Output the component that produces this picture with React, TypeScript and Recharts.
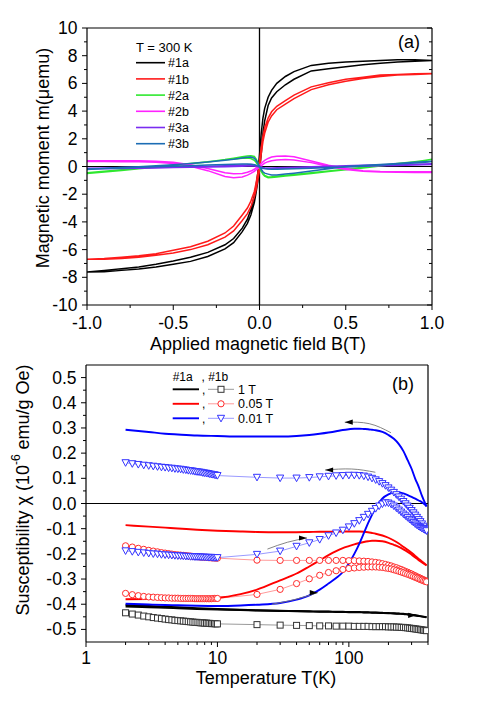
import React from "react";
import { LineChart, Line, XAxis, YAxis, ReferenceLine } from "recharts";

const FONT = "'Liberation Sans', Arial, Helvetica, sans-serif";

// ---------- panel (a): hysteresis loops at 300 K ----------
const fieldB = [-1, -0.9, -0.8, -0.7, -0.6, -0.5, -0.4, -0.3, -0.2, -0.15, -0.1, -0.07, -0.05, -0.03, -0.02, -0.01, 0, 0.01, 0.02, 0.03, 0.05, 0.07, 0.1, 0.15, 0.2, 0.3, 0.4, 0.5, 0.6, 0.7, 0.8, 0.9, 1];

const m1aDown = [-7.62, -7.5, -7.38, -7.25, -7.05, -6.82, -6.55, -6.2, -5.65, -5.2, -4.45, -3.8, -3.1, -2.1, -1.4, -0.5, 0.8, 2.4, 3.5, 4.2, 5.0, 5.5, 6.0, 6.5, 6.85, 7.3, 7.45, 7.55, 7.6, 7.65, 7.7, 7.7, 7.65];
const m1aUp = [-7.62, -7.6, -7.5, -7.4, -7.25, -7.05, -6.85, -6.5, -5.95, -5.5, -4.7, -4.1, -3.5, -2.6, -1.9, -1.1, -0.3, 0.9, 2.4, 3.3, 4.4, 4.95, 5.4, 5.9, 6.3, 6.9, 7.05, 7.2, 7.35, 7.45, 7.55, 7.6, 7.65];
const m1bDown = [-6.7, -6.65, -6.55, -6.45, -6.3, -6.05, -5.8, -5.4, -4.8, -4.3, -3.5, -3.0, -2.5, -1.8, -1.2, -0.5, 0.4, 1.4, 2.2, 2.8, 3.5, 3.95, 4.35, 4.75, 5.15, 5.75, 6.05, 6.3, 6.45, 6.6, 6.65, 6.7, 6.72];
const m1bUp = [-6.7, -6.7, -6.65, -6.55, -6.4, -6.25, -6.0, -5.65, -5.1, -4.65, -3.9, -3.4, -2.9, -2.2, -1.7, -1.0, -0.3, 0.9, 1.8, 2.4, 3.2, 3.65, 4.1, 4.5, 4.9, 5.55, 5.9, 6.15, 6.35, 6.5, 6.6, 6.65, 6.7];
const m2aDown = [-0.5, -0.39, -0.28, -0.17, -0.06, 0.05, 0.19, 0.33, 0.5, 0.6, 0.7, 0.76, 0.78, 0.72, 0.55, 0.3, 0.0, -0.3, -0.5, -0.65, -0.76, -0.74, -0.7, -0.64, -0.58, -0.45, -0.32, -0.19, -0.06, 0.08, 0.21, 0.35, 0.5];
const m2aUp = [-0.45, -0.35, -0.24, -0.13, -0.02, 0.09, 0.22, 0.35, 0.48, 0.55, 0.6, 0.62, 0.58, 0.45, 0.3, 0.1, -0.1, -0.35, -0.56, -0.7, -0.82, -0.8, -0.76, -0.69, -0.63, -0.5, -0.37, -0.24, -0.1, 0.04, 0.18, 0.33, 0.53];
const m2bDown = [0.42, 0.42, 0.42, 0.41, 0.38, 0.3, 0.12, -0.15, -0.45, -0.52, -0.5, -0.42, -0.33, -0.2, -0.1, 0.0, 0.1, 0.22, 0.34, 0.44, 0.58, 0.68, 0.74, 0.76, 0.7, 0.4, 0.1, -0.15, -0.3, -0.36, -0.38, -0.38, -0.38];
const m2bUp = [0.36, 0.36, 0.35, 0.34, 0.3, 0.22, 0.02, -0.3, -0.72, -0.82, -0.76, -0.62, -0.5, -0.35, -0.25, -0.15, -0.05, 0.05, 0.15, 0.24, 0.35, 0.42, 0.47, 0.5, 0.47, 0.28, 0.0, -0.22, -0.35, -0.4, -0.42, -0.43, -0.43];
const m3aDown = [-0.12, -0.1, -0.08, -0.06, -0.04, -0.02, 0.0, 0.02, 0.05, 0.07, 0.1, 0.12, 0.14, 0.12, 0.08, 0.03, 0.0, -0.04, -0.07, -0.09, -0.1, -0.1, -0.09, -0.07, -0.05, -0.02, 0.02, 0.06, 0.09, 0.12, 0.15, 0.17, 0.2];
const m3aUp = [-0.18, -0.16, -0.14, -0.12, -0.1, -0.08, -0.06, -0.04, -0.02, 0.0, 0.02, 0.04, 0.05, 0.04, 0.02, -0.01, -0.04, -0.08, -0.12, -0.14, -0.16, -0.16, -0.15, -0.13, -0.11, -0.08, -0.05, -0.02, 0.02, 0.05, 0.08, 0.11, 0.14];
const m3bDown = [-0.22, -0.15, -0.08, -0.01, 0.06, 0.13, 0.22, 0.32, 0.45, 0.52, 0.62, 0.66, 0.68, 0.6, 0.45, 0.25, 0.02, -0.2, -0.38, -0.48, -0.55, -0.62, -0.62, -0.55, -0.48, -0.32, -0.16, 0.0, 0.08, 0.15, 0.22, 0.3, 0.38];
const m3bUp = [-0.18, -0.14, -0.1, -0.06, -0.02, 0.02, 0.06, 0.1, 0.14, 0.16, 0.18, 0.18, 0.16, 0.12, 0.08, 0.03, -0.02, -0.08, -0.12, -0.15, -0.18, -0.2, -0.2, -0.18, -0.16, -0.12, -0.08, -0.03, 0.03, 0.1, 0.18, 0.26, 0.35];

const loopSeries = [
  { name: "#1a", color: "#000000", down: m1aDown, up: m1aUp },
  { name: "#1b", color: "#ff1a1a", down: m1bDown, up: m1bUp },
  { name: "#2a", color: "#2ee82e", down: m2aDown, up: m2aUp },
  { name: "#2b", color: "#ff22ff", down: m2bDown, up: m2bUp },
  { name: "#3a", color: "#7a2cf0", down: m3aDown, up: m3aUp },
  { name: "#3b", color: "#1c6db4", down: m3bDown, up: m3bUp },
];

const bTicks = [-1, -0.75, -0.5, -0.25, 0, 0.25, 0.5, 0.75, 1];
const mTicks = [-10, -9, -8, -7, -6, -5, -4, -3, -2, -1, 0, 1, 2, 3, 4, 5, 6, 7, 8, 9, 10];

// ---------- panel (b): susceptibility vs temperature ----------
const lineT = [2, 3, 4, 5, 7, 10, 15, 20, 30, 40, 50, 60, 70, 80, 90, 100, 110, 120, 130, 140, 150, 160, 180, 200, 220, 240, 260, 280, 300, 320, 340, 360, 390];
const chi1aBlackA = [-0.403, -0.407, -0.41, -0.412, -0.416, -0.419, -0.422, -0.424, -0.426, -0.427, -0.428, -0.429, -0.429, -0.43, -0.43, -0.431, -0.431, -0.431, -0.432, -0.432, -0.433, -0.433, -0.434, -0.435, -0.436, -0.437, -0.438, -0.44, -0.442, -0.444, -0.446, -0.448, -0.451];
const chi1aBlackB = [-0.409, -0.412, -0.414, -0.416, -0.419, -0.421, -0.423, -0.425, -0.427, -0.428, -0.429, -0.43, -0.43, -0.431, -0.431, -0.432, -0.432, -0.432, -0.433, -0.433, -0.434, -0.434, -0.435, -0.436, -0.437, -0.438, -0.439, -0.441, -0.443, -0.445, -0.447, -0.449, -0.452];
const chi1aRedUpper = [-0.086, -0.092, -0.096, -0.099, -0.104, -0.108, -0.111, -0.113, -0.114, -0.114, -0.113, -0.112, -0.112, -0.111, -0.111, -0.111, -0.111, -0.111, -0.112, -0.114, -0.117, -0.12, -0.127, -0.136, -0.147, -0.159, -0.172, -0.184, -0.196, -0.208, -0.22, -0.23, -0.245];
const chi1aRedLower = [-0.38, -0.379, -0.378, -0.377, -0.376, -0.374, -0.36, -0.342, -0.305, -0.278, -0.25, -0.226, -0.205, -0.189, -0.177, -0.169, -0.162, -0.157, -0.153, -0.15, -0.148, -0.148, -0.15, -0.156, -0.164, -0.172, -0.182, -0.192, -0.203, -0.214, -0.225, -0.234, -0.246];
const chi1aBlueUpper = [0.293, 0.284, 0.277, 0.274, 0.27, 0.268, 0.266, 0.266, 0.266, 0.268, 0.272, 0.277, 0.282, 0.287, 0.292, 0.295, 0.297, 0.297, 0.296, 0.295, 0.293, 0.291, 0.284, 0.272, 0.257, 0.236, 0.208, 0.172, 0.138, 0.098, 0.066, 0.03, -0.012];
const chi1aBlueLower = [-0.398, -0.401, -0.403, -0.404, -0.406, -0.407, -0.405, -0.402, -0.395, -0.382, -0.365, -0.342, -0.318, -0.296, -0.272, -0.238, -0.2, -0.16, -0.118, -0.078, -0.045, -0.018, 0.02, 0.036, 0.043, 0.044, 0.04, 0.033, 0.026, 0.019, 0.012, 0.005, -0.01];

const markerT = [2, 2.25, 2.5, 2.75, 3, 3.25, 3.5, 3.75, 4, 4.25, 4.5, 4.75, 5, 5.25, 5.5, 5.75, 6, 6.25, 6.5, 6.75, 7, 7.25, 7.5, 7.75, 8, 8.25, 8.5, 8.75, 9, 9.25, 9.5, 9.75, 10, 20, 30, 40, 50, 60, 70, 80, 90, 100, 110, 120, 130, 140, 150, 160, 170, 180, 190, 200, 210, 220, 230, 240, 250, 260, 270, 280, 290, 300, 310, 320, 330, 340, 350, 360, 370, 380, 390];
const chi1bSquare = [-0.434, -0.439, -0.443, -0.447, -0.45, -0.453, -0.455, -0.457, -0.459, -0.461, -0.462, -0.464, -0.465, -0.466, -0.467, -0.468, -0.469, -0.47, -0.471, -0.472, -0.472, -0.473, -0.474, -0.474, -0.475, -0.475, -0.476, -0.476, -0.477, -0.477, -0.477, -0.478, -0.478,
  -0.481, -0.483, -0.484, -0.485, -0.486, -0.486, -0.487, -0.487, -0.487, -0.488, -0.488, -0.488, -0.488, -0.489, -0.489, -0.489, -0.489, -0.489, -0.49, -0.49, -0.49, -0.491, -0.491, -0.492, -0.492, -0.493, -0.494, -0.495, -0.496, -0.497, -0.498, -0.499, -0.5, -0.501, -0.502, -0.503, -0.504, -0.505];
const chi1bCircleUpper = [-0.168, -0.173, -0.178, -0.182, -0.186, -0.189, -0.192, -0.195, -0.197, -0.199, -0.201, -0.203, -0.204, -0.205, -0.206, -0.207, -0.208, -0.209, -0.21, -0.211, -0.211, -0.212, -0.213, -0.213, -0.214, -0.214, -0.215, -0.215, -0.216, -0.216, -0.216, -0.217, -0.217,
  -0.225, -0.226, -0.226, -0.226, -0.226, -0.226, -0.226, -0.226, -0.227, -0.227, -0.228, -0.229, -0.23, -0.232, -0.234, -0.236, -0.239, -0.242, -0.245, -0.248, -0.252, -0.255, -0.259, -0.262, -0.266, -0.27, -0.273, -0.277, -0.28, -0.284, -0.287, -0.291, -0.294, -0.297, -0.3, -0.303, -0.306, -0.309];
const chi1bCircleLower = [-0.357, -0.362, -0.366, -0.369, -0.371, -0.372, -0.373, -0.374, -0.375, -0.375, -0.376, -0.376, -0.376, -0.377, -0.377, -0.377, -0.377, -0.377, -0.377, -0.378, -0.378, -0.378, -0.378, -0.378, -0.378, -0.378, -0.378, -0.378, -0.378, -0.377, -0.377, -0.377, -0.377,
  -0.361, -0.341, -0.318, -0.299, -0.285, -0.274, -0.267, -0.262, -0.258, -0.256, -0.254, -0.253, -0.252, -0.252, -0.252, -0.253, -0.254, -0.256, -0.258, -0.26, -0.263, -0.266, -0.269, -0.272, -0.275, -0.278, -0.281, -0.284, -0.287, -0.29, -0.293, -0.296, -0.299, -0.302, -0.304, -0.307, -0.309, -0.311];
const chi1bTriUpper = [0.162, 0.158, 0.155, 0.152, 0.15, 0.148, 0.146, 0.144, 0.143, 0.141, 0.14, 0.138, 0.137, 0.136, 0.134, 0.133, 0.131, 0.13, 0.129, 0.127, 0.126, 0.125, 0.124, 0.122, 0.121, 0.12, 0.119, 0.117, 0.116, 0.115, 0.114, 0.112, 0.111,
  0.104, 0.101, 0.101, 0.103, 0.106, 0.108, 0.11, 0.111, 0.112, 0.112, 0.111, 0.109, 0.105, 0.1, 0.094, 0.087, 0.079, 0.071, 0.062, 0.053, 0.044, 0.035, 0.026, 0.017, 0.008, -0.001, -0.01, -0.019, -0.028, -0.037, -0.046, -0.055, -0.064, -0.072, -0.081, -0.09, -0.099, -0.108];
const chi1bTriLower = [-0.188, -0.191, -0.194, -0.196, -0.198, -0.2, -0.201, -0.203, -0.204, -0.205, -0.206, -0.207, -0.208, -0.208, -0.209, -0.21, -0.21, -0.211, -0.211, -0.212, -0.212, -0.212, -0.213, -0.213, -0.213, -0.214, -0.214, -0.214, -0.214, -0.215, -0.215, -0.215, -0.215,
  -0.202, -0.189, -0.17, -0.156, -0.143, -0.128, -0.117, -0.106, -0.093, -0.08, -0.068, -0.055, -0.043, -0.031, -0.02, -0.01, -0.002, 0.003, 0.002, -0.003, -0.01, -0.018, -0.026, -0.034, -0.042, -0.049, -0.056, -0.063, -0.069, -0.075, -0.081, -0.086, -0.091, -0.095, -0.099, -0.102, -0.105, -0.108];

// sweep-direction arrows (T, chi)
const arrowT = [
  { pts: [[209, 0.281], [143, 0.317], [93, 0.323]], dir: -1, color: "#777" },
  { pts: [[159, 0.124], [105, 0.137], [66, 0.133]], dir: -1, color: "#777" },
  { pts: [[24, -0.181], [34, -0.154], [48, -0.137]], dir: 1, color: "#777" },
  { pts: [[26, -0.4], [39, -0.381], [58, -0.354]], dir: 1, color: "#777" },
  { pts: [[300, -0.442], [325, -0.444]], dir: 1, color: "#000" },
];

const tTicks = [1, 2, 3, 4, 5, 6, 7, 8, 9, 10, 20, 30, 40, 50, 60, 70, 80, 90, 100, 200, 300, 400];
const chiTicks = [-0.5, -0.45, -0.4, -0.35, -0.3, -0.25, -0.2, -0.15, -0.1, -0.05, 0, 0.05, 0.1, 0.15, 0.2, 0.25, 0.3, 0.35, 0.4, 0.45, 0.5];

const toLoop = (down: number[], up: number[]) => [
  ...fieldB.map((b, i) => ({ b, m: down[i] })).reverse(),
  ...fieldB.map((b, i) => ({ b, m: up[i] })),
];
const toSeries = (ts: number[], vals: number[]) => ts.map((t, i) => ({ t, c: vals[i] }));

const isMult = (v: number, step: number) => Math.abs(v / step - Math.round(v / step)) < 1e-6;
const AX = { stroke: "#000", strokeWidth: 1.2 };
const TICK_FONT = 17.5;

type Side = "bottom" | "left" | "top" | "right";
function makeTick(side: Side, isMajor: (v: number) => boolean, fmt?: (v: number) => string, gap = 0) {
  return (props: any) => {
    const { x, y, payload, index } = props;
    const v: number = payload.value;
    const major = isMajor(v);
    const len = major ? 5 : 3;
    let tick;
    if (side === "bottom" || side === "top") tick = <line x1={x} x2={x} y1={y} y2={y + len} stroke="#000" />;
    else tick = <line x1={x} x2={x - len} y1={y} y2={y} stroke="#000" />;
    let label = null;
    if (major && fmt) {
      label =
        side === "bottom" ? (
          <text x={x} y={y + gap} textAnchor="middle" fontSize={TICK_FONT} fontFamily={FONT} fill="#000">{fmt(v)}</text>
        ) : (
          <text x={x - gap} y={y + 6} textAnchor="end" fontSize={TICK_FONT} fontFamily={FONT} fill="#000">{fmt(v)}</text>
        );
    }
    return (
      <g key={`${side}-${index}`}>
        {tick}
        {label}
      </g>
    );
  };
}

const squareDot = (p: any) => (
  <rect key={`s${p.index}`} x={p.cx - 3} y={p.cy - 3} width={6} height={6} fill="#fff" stroke="#333" strokeWidth={1} />
);
const circleDot = (p: any) => (
  <circle key={`c${p.index}`} cx={p.cx} cy={p.cy} r={3.1} fill="#fff" stroke="#ff2a2a" strokeWidth={1} />
);
const triDot = (p: any) => (
  <polygon key={`v${p.index}`} points={`${p.cx - 3.6},${p.cy - 3} ${p.cx + 3.6},${p.cy - 3} ${p.cx},${p.cy + 3.6}`} fill="#fff" stroke="#3434ff" strokeWidth={1} />
);

const markerSeries = [
  { key: "sq", vals: chi1bSquare, line: "#9a9a9a", dot: squareDot },
  { key: "cu", vals: chi1bCircleUpper, line: "#ff9a9a", dot: circleDot },
  { key: "cl", vals: chi1bCircleLower, line: "#ff9a9a", dot: circleDot },
  { key: "tu", vals: chi1bTriUpper, line: "#9a9aff", dot: triDot },
  { key: "tl", vals: chi1bTriLower, line: "#9a9aff", dot: triDot },
];

const solidSeries = [
  { key: "k1", vals: chi1aBlackA, color: "#000000" },
  { key: "k2", vals: chi1aBlackB, color: "#000000" },
  { key: "r1", vals: chi1aRedUpper, color: "#ff0000" },
  { key: "r2", vals: chi1aRedLower, color: "#ff0000" },
  { key: "b1", vals: chi1aBlueUpper, color: "#0000ff" },
  { key: "b2", vals: chi1aBlueLower, color: "#0000ff" },
];

const legendB = [
  { label: "1 T", color: "#000000", line: "#9a9a9a", dot: squareDot },
  { label: "0.05 T", color: "#ff0000", line: "#ff9a9a", dot: circleDot },
  { label: "0.01 T", color: "#0000ff", line: "#9a9aff", dot: triDot },
];

const arrowDot = (n: number, dir: number) => (p: any) => {
  if (p.index !== n - 1) return <g key={`a${p.index}`} />;
  const { cx, cy } = p;
  const pts = `${cx},${cy} ${cx - dir * 8},${cy - 2.6} ${cx - dir * 8},${cy + 2.6}`;
  return <polygon key={`a${p.index}`} points={pts} fill="#000" />;
};

export default function App() {
  return (
    <div style={{ position: "absolute", left: 0, top: 0, width: 491, height: 701, background: "#fff", fontFamily: FONT }}>
      <div style={{ position: "absolute", left: 0, top: 0 }}>
        <LineChart width={491} height={350} margin={{ top: 27, right: 58, bottom: 44, left: 86 }}>
          <XAxis dataKey="b" type="number" domain={[-1, 1]} allowDataOverflow ticks={bTicks} interval={0} height={1} tickSize={0} tickMargin={0} tickLine={false} axisLine={AX}
            tick={makeTick("bottom", (v) => isMult(v, 0.5), (v) => v.toFixed(1), 24)} />
          <XAxis xAxisId="top" orientation="top" type="number" domain={[-1, 1]} allowDataOverflow ticks={bTicks} interval={0} height={1} tickSize={0} tickMargin={0} tickLine={false} axisLine={AX}
            tick={makeTick("top", () => true)} />
          <YAxis type="number" domain={[-10, 10]} allowDataOverflow ticks={mTicks} interval={0} width={1} tickSize={0} tickMargin={0} tickLine={false} axisLine={AX}
            tick={makeTick("left", (v) => isMult(v, 2), (v) => String(v), 9.5)} />
          <YAxis yAxisId="right" orientation="right" type="number" domain={[-10, 10]} allowDataOverflow ticks={mTicks} interval={0} width={1} tickSize={0} tickMargin={0} tickLine={false} axisLine={AX}
            tick={makeTick("right", (v) => isMult(v, 2))} />
          <ReferenceLine x={0} stroke="#000" strokeWidth={1.3} />
          <ReferenceLine y={0} stroke="#000" strokeWidth={1.1} />
          {loopSeries.map((s) => (
            <Line key={s.name} data={toLoop(s.down, s.up)} dataKey="m" type="linear" stroke={s.color} strokeWidth={1.5}
              dot={false} activeDot={false} isAnimationActive={false} />
          ))}
        </LineChart>
      </div>

      <div style={{ position: "absolute", left: 0, top: 350 }}>
        <LineChart width={491} height={351} margin={{ top: 14, right: 62, bottom: 58, left: 85 }}>
          <XAxis dataKey="t" type="number" scale="log" domain={[1, 400]} allowDataOverflow ticks={tTicks} interval={0} height={1} tickSize={0} tickMargin={0} tickLine={false} axisLine={AX}
            tick={makeTick("bottom", (v) => v === 1 || v === 10 || v === 100, (v) => String(v), 22)} />
          <XAxis xAxisId="top" orientation="top" type="number" scale="log" domain={[1, 400]} allowDataOverflow height={1} tick={false} tickLine={false} axisLine={AX} />
          <YAxis type="number" domain={[-0.55, 0.55]} allowDataOverflow ticks={chiTicks} interval={0} width={1} tickSize={0} tickMargin={0} tickLine={false} axisLine={AX}
            tick={makeTick("left", (v) => isMult(v, 0.1), (v) => v.toFixed(1), 9.5)} />
          <YAxis yAxisId="right" orientation="right" type="number" domain={[-0.55, 0.55]} allowDataOverflow width={1} tick={false} tickLine={false} axisLine={AX} />
          <ReferenceLine y={0} stroke="#000" strokeWidth={1.1} />
          {markerSeries.map((s) => (
            <Line key={s.key} data={toSeries(markerT, s.vals)} dataKey="c" type="linear" stroke={s.line} strokeWidth={1}
              dot={s.dot} activeDot={false} isAnimationActive={false} />
          ))}
          {solidSeries.map((s) => (
            <Line key={s.key} data={toSeries(lineT, s.vals)} dataKey="c" type="monotone" stroke={s.color} strokeWidth={1.9}
              dot={false} activeDot={false} isAnimationActive={false} />
          ))}
          {arrowT.map((a, i) => (
            <Line key={`arrow${i}`} data={a.pts.map(([t, c]) => ({ t, c }))} dataKey="c" type="natural" stroke={a.color} strokeWidth={0.9}
              dot={arrowDot(a.pts.length, a.dir)} activeDot={false} isAnimationActive={false} />
          ))}
        </LineChart>
      </div>

      <svg width={491} height={701} style={{ position: "absolute", left: 0, top: 0, pointerEvents: "none" }} fontFamily={FONT}>
        {/* panel (a) titles and legend */}
        <text transform="translate(43,158) rotate(-90)" textAnchor="middle" dominantBaseline="central" fontSize={18}>Magnetic moment m(μemu)</text>
        <text x={258} y={350} textAnchor="middle" fontSize={18}>Applied magnetic field B(T)</text>
        <text x={398} y={48} fontSize={18}>(a)</text>
        <text x={136} y={51.5} fontSize={13}>T = 300 K</text>
        {loopSeries.map((s, i) => {
          const y = 62.7 + i * 16.2;
          return (
            <g key={s.name}>
              <line x1={136} x2={165} y1={y} y2={y} stroke={s.color} strokeWidth={1.6} />
              <text x={168} y={y + 4.6} fontSize={12.5}>{s.name}</text>
            </g>
          );
        })}

        {/* panel (b) titles and legend */}
        <text transform="translate(23,490) rotate(-90)" textAnchor="middle" dominantBaseline="central" fontSize={18}>
          Susceptibility χ (10<tspan dy={-7} fontSize={12}>-6</tspan><tspan dy={7}> emu/g Oe)</tspan>
        </text>
        <text x={266} y={684} textAnchor="middle" fontSize={18}>Temperature T(K)</text>
        <text x={392} y={389.5} fontSize={18}>(b)</text>
        <text x={172.7} y={380.5} fontSize={12}>#1a</text>
        <text x={201.5} y={380.5} fontSize={12}>, #1b</text>
        {legendB.map((r, i) => {
          const y = 389.3 + i * 14.5;
          return (
            <g key={r.label}>
              <line x1={172.7} x2={199} y1={y} y2={y} stroke={r.color} strokeWidth={1.9} />
              <text x={202} y={y + 4.5} fontSize={12}>,</text>
              <line x1={208} x2={234} y1={y} y2={y} stroke={r.line} strokeWidth={1} />
              {r.dot({ cx: 221, cy: y, index: 999 + i })}
              <text x={238} y={y + 4.5} fontSize={12.5}>{r.label}</text>
            </g>
          );
        })}
      </svg>
    </div>
  );
}
